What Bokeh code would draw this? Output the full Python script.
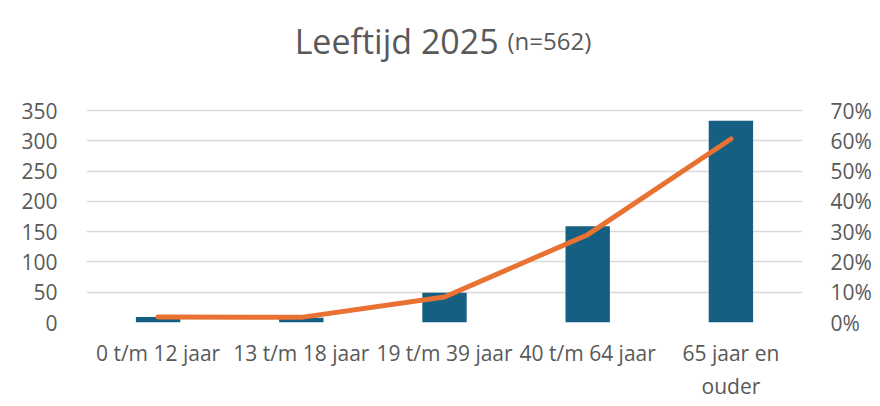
from bokeh.plotting import figure
from bokeh.models import Range1d, LinearAxis, FixedTicker, NumeralTickFormatter, Label, ColumnDataSource
from bokeh.embed import file_html
from bokeh.resources import INLINE

categories = ["0 t/m 12 jaar", "13 t/m 18 jaar", "19 t/m 39 jaar", "40 t/m 64 jaar", "65 jaar en\nouder"]
counts = [9, 8, 49, 159, 333]
shares = [0.018, 0.017, 0.084, 0.29, 0.606]
left_ticks = [0, 50, 100, 150, 200, 250, 300, 350]
right_ticks = [0.0, 0.1, 0.2, 0.3, 0.4, 0.5, 0.6, 0.7]
title_main = "Leeftijd 2025"
title_sub = "(n=562)"

FONT = "Open Sans"
TXT = "#595959"

AXIS_PX = 212.0
FRAME_H = 303
LEFT_MAX = 350.0
RIGHT_MAX = 0.7
scale = FRAME_H / AXIS_PX

src = ColumnDataSource(dict(cat=categories, cnt=counts, pct=shares))

p = figure(frame_width=716, frame_height=FRAME_H, x_range=categories,
           y_range=Range1d(0, LEFT_MAX * scale),
           output_backend="svg", toolbar_location=None,
           min_border_left=86, min_border_right=69, min_border_top=19, min_border_bottom=60)
p.outline_line_color = None
p.background_fill_color = "white"
p.border_fill_color = "white"

p.extra_y_ranges = {"pct": Range1d(0, RIGHT_MAX * scale)}

p.vbar(x="cat", top="cnt", width=0.31, source=src, fill_color="#156082", line_color=None)
p.line(x="cat", y="pct", source=src, y_range_name="pct", line_color="#E97132",
       line_width=5, line_cap="round", line_join="round")

for ax in [p.yaxis[0], p.xaxis[0]]:
    ax.axis_line_color = None
    ax.major_tick_line_color = None
    ax.minor_tick_line_color = None
    ax.major_label_text_font = FONT
    ax.major_label_text_font_size = "21px"
    ax.major_label_text_color = TXT

p.yaxis[0].ticker = FixedTicker(ticks=left_ticks)
p.yaxis[0].major_label_standoff = 23
p.xaxis[0].major_label_standoff = 10

ry = LinearAxis(y_range_name="pct", ticker=FixedTicker(ticks=right_ticks),
                formatter=NumeralTickFormatter(format="0%"))
ry.axis_line_color = None
ry.major_tick_line_color = None
ry.minor_tick_line_color = None
ry.major_label_text_font = FONT
ry.major_label_text_font_size = "21px"
ry.major_label_text_color = TXT
ry.major_label_standoff = 22
p.add_layout(ry, "right")

p.xgrid.grid_line_color = None
p.ygrid.grid_line_color = "#D9D9D9"
p.ygrid.grid_line_width = 1.5
p.ygrid.ticker = FixedTicker(ticks=left_ticks)

title_y = LEFT_MAX * (323 - 41) / AXIS_PX
p.add_layout(Label(x=2.94, y=title_y, text=title_main + " ", text_align="right",
                   text_baseline="alphabetic", text_font=FONT, text_font_size="34px",
                   text_color=TXT))
p.add_layout(Label(x=2.94, y=title_y, text=title_sub, text_align="left",
                   text_baseline="alphabetic", text_font=FONT, text_font_size="24px",
                   text_color=TXT))

open("out.html", "w").write(file_html(p, INLINE))
